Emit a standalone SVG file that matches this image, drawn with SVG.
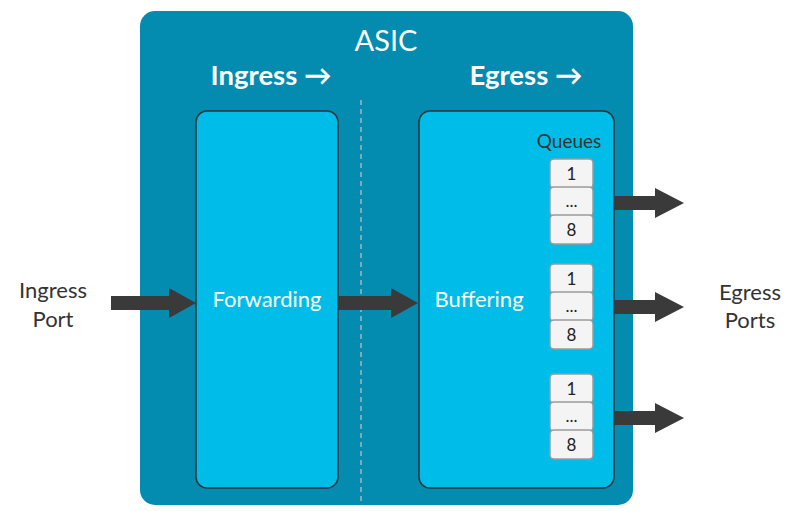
<svg xmlns="http://www.w3.org/2000/svg" width="793" height="511" viewBox="0 0 793 511">
<defs>
<style>
text{font-family:Lato,"Open Sans","Liberation Sans",sans-serif}
.w{fill:#fff}
.d{fill:#333}
.blk{fill:#00BCE9;stroke:#333;stroke-width:1.5}
.q{fill:#F4F4F4;stroke:#9a9a9a;stroke-width:1.5}
.qt{font-size:17px;fill:#222;text-anchor:middle}
.arr{fill:#3A3A3A}
</style>
</defs>
<rect width="793" height="511" fill="#fff"/>
<g id="asic">
<rect x="140" y="11" width="493" height="494" rx="15" fill="#038BB0"/>
<text x="386" y="51" class="w" font-size="29" text-anchor="middle">ASIC</text>
<text x="271" y="85" class="w" font-size="27.5" font-weight="bold" text-anchor="middle">Ingress →</text>
<text x="526" y="85" class="w" font-size="27.5" font-weight="bold" text-anchor="middle">Egress →</text>
<line x1="361" y1="100" x2="361" y2="505" stroke="#BDBDBD" stroke-width="1.3" stroke-dasharray="5,4"/>
</g>
<g id="forwarding">
<rect class="blk" x="196" y="111" width="142" height="377" rx="11"/>
<text x="267" y="307" class="w" font-size="22" text-anchor="middle">Forwarding</text>
</g>
<g id="buffering">
<rect class="blk" x="419" y="111" width="195" height="377" rx="11"/>
<text x="479" y="307" class="w" font-size="22" text-anchor="middle">Buffering</text>
<text x="569" y="148" class="d" font-size="19" text-anchor="middle">Queues</text>
</g>
<g id="queue1">
<rect class="q" x="550" y="159" width="43" height="29" rx="4"/>
<rect class="q" x="550" y="187" width="43" height="29" rx="4"/>
<rect class="q" x="550" y="215" width="43" height="29" rx="4"/>
<text class="qt" x="571.5" y="180">1</text>
<text class="qt" x="571.5" y="207">...</text>
<text class="qt" x="571.5" y="236">8</text>
</g>
<g id="queue2">
<rect class="q" x="550" y="264" width="43" height="29" rx="4"/>
<rect class="q" x="550" y="292" width="43" height="29" rx="4"/>
<rect class="q" x="550" y="320" width="43" height="29" rx="4"/>
<text class="qt" x="571.5" y="285">1</text>
<text class="qt" x="571.5" y="312">...</text>
<text class="qt" x="571.5" y="341">8</text>
</g>
<g id="queue3">
<rect class="q" x="550" y="374" width="43" height="29" rx="4"/>
<rect class="q" x="550" y="402" width="43" height="29" rx="4"/>
<rect class="q" x="550" y="430" width="43" height="29" rx="4"/>
<text class="qt" x="571.5" y="395">1</text>
<text class="qt" x="571.5" y="422">...</text>
<text class="qt" x="571.5" y="451">8</text>
</g>
<g id="ingress-port">
<text x="53" y="298" class="d" font-size="22" text-anchor="middle">Ingress</text>
<text x="53" y="327" class="d" font-size="22" text-anchor="middle">Port</text>
</g>
<g id="egress-ports">
<text x="750" y="300" class="d" font-size="22" text-anchor="middle">Egress</text>
<text x="750" y="328" class="d" font-size="22" text-anchor="middle">Ports</text>
</g>
<g id="connectors">
<polygon class="arr" points="111,296 169,296 169,288 196,303 169,318 169,310 111,310"/>
<polygon class="arr" points="338,296 391,296 391,288 418,303 391,318 391,310 338,310"/>
<polygon class="arr" points="614,196 655,196 655,188 684,203 655,218 655,210 614,210"/>
<polygon class="arr" points="614,300 655,300 655,292 684,307 655,322 655,314 614,314"/>
<polygon class="arr" points="614,411 655,411 655,403 684,418 655,433 655,425 614,425"/>
</g>
</svg>
